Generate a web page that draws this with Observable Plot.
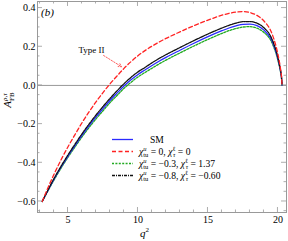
<!DOCTYPE html>
<html><head><meta charset="utf-8">
<script src="https://cdn.jsdelivr.net/npm/d3@7"></script>
<script src="https://cdn.jsdelivr.net/npm/@observablehq/plot@0.6"></script>
<style>html,body{margin:0;padding:0;background:#fff}svg{display:block}</style>
</head><body><div id="chart"></div>
<script>
// q^2 grid (GeV^2)
const q2 = [3.157,3.5,4,4.5,5,5.5,6,6.5,7,7.5,8,8.5,9,9.5,10,10.5,11,11.5,12,13,14,15,16,16.5,17,17.5,18,18.5,19,19.5,19.7,19.9,20,20.1,20.2,20.25,20.29];
// SM (blue solid)
const sm = [-0.600,-0.552,-0.485,-0.423,-0.365,-0.311,-0.258,-0.209,-0.163,-0.120,-0.078,-0.040,-0.003,0.029,0.057,0.080,0.103,0.125,0.145,0.182,0.218,0.252,0.283,0.297,0.308,0.316,0.317,0.309,0.286,0.241,0.207,0.164,0.136,0.105,0.067,0.043,0.000];
// chi_tu^u = 0, chi_tau^l = 0 (red dashed, Type II)
const typeII = [-0.600,-0.540,-0.459,-0.385,-0.317,-0.254,-0.193,-0.137,-0.085,-0.037,0.008,0.049,0.088,0.123,0.154,0.180,0.203,0.224,0.243,0.277,0.309,0.338,0.363,0.373,0.379,0.382,0.377,0.362,0.333,0.280,0.242,0.192,0.160,0.123,0.078,0.050,0.000];
// chi_tu^u = -0.3, chi_tau^l = 1.37 (green dashed)
const chiA = [-0.600,-0.554,-0.489,-0.428,-0.371,-0.318,-0.266,-0.218,-0.173,-0.131,-0.089,-0.052,-0.015,0.016,0.044,0.067,0.089,0.111,0.131,0.168,0.204,0.238,0.269,0.283,0.294,0.302,0.304,0.296,0.274,0.231,0.198,0.156,0.129,0.099,0.063,0.040,0.000];
// chi_tu^u = -0.8, chi_tau^l = -0.60 (black dash-dot)
const chiB = [-0.600,-0.550,-0.481,-0.418,-0.359,-0.304,-0.250,-0.200,-0.153,-0.109,-0.067,-0.028,0.009,0.042,0.070,0.093,0.117,0.139,0.159,0.196,0.232,0.266,0.297,0.311,0.322,0.330,0.330,0.322,0.298,0.251,0.216,0.172,0.143,0.111,0.071,0.046,0.000];

const xTicks = [5,10,15,20];
const yTicks = [-0.6,-0.4,-0.2,0,0.2,0.4];
const xMinor = d3.range(3,21);
const yMinor = d3.range(-13,9).map(k=>k*0.05);
const annot = [{x1:7.54,y1:0.155,x2:8.82,y2:0.097,tx:6.68,ty:0.185,label:"Type II"}];
const legendVals = [null,["0","0"],["−0.3","1.37"],["−0.8","−0.60"]];

const rows = q2.map((q,i)=>({q, sm:sm[i], t2:typeII[i], a:chiA[i], b:chiB[i]}));

const plot = Plot.plot({
  width:288, height:241,
  marginLeft:37, marginRight:2, marginTop:1, marginBottom:29,
  x:{domain:[2.82,20.61]},
  y:{domain:[-0.657,0.434]},
  style:{fontFamily:"Liberation Serif", fontSize:"10px", background:"#fff", color:"#000"},
  marks:[
    Plot.ruleY([0],{stroke:"#999",strokeWidth:1}),
    Plot.line(rows,{x:"q",y:"a",stroke:"#22aa22",strokeWidth:1.3,strokeDasharray:"2,1.4",curve:"monotone-x"}),
    Plot.line(rows,{x:"q",y:"sm",stroke:"#2a2aff",strokeWidth:1.3,curve:"monotone-x"}),
    Plot.line(rows,{x:"q",y:"b",stroke:"#111",strokeWidth:1.3,strokeDasharray:"3,1,1,1",curve:"monotone-x"}),
    Plot.line(rows,{x:"q",y:"t2",stroke:"#ff2222",strokeWidth:1.3,strokeDasharray:"4,2.5",curve:"monotone-x"}),
    Plot.arrow(annot,{x1:"x1",y1:"y1",x2:"x2",y2:"y2",stroke:"#ff6060",strokeWidth:1,strokeDasharray:"1.5,1.5",headLength:5,bend:false}),
    Plot.text(annot,{x:"tx",y:"ty",text:"label",fontSize:9,fill:"#000"}),
    Plot.frame({stroke:"#999"}),
    Plot.axisX({ticks:xTicks,tickSize:0,tickPadding:3,tickFormat:d=>String(d),label:null}),
    Plot.axisY({ticks:yTicks,tickSize:0,tickPadding:2,tickFormat:d3.format(".1f"),label:null})
  ]
});
document.getElementById("chart").appendChild(plot);

const sx = plot.scale("x"), sy = plot.scale("y");
const svg = d3.select(plot);
const L = sx.apply(2.82), R = sx.apply(20.61), T = sy.apply(0.434), B = sy.apply(-0.657);
const tg = svg.append("g").attr("stroke","#999").attr("stroke-width",0.8);
xMinor.forEach(v=>{
  const x = sx.apply(v), len = xTicks.includes(v)?5:2.5;
  tg.append("line").attr("x1",x).attr("x2",x).attr("y1",B).attr("y2",B-len);
  tg.append("line").attr("x1",x).attr("x2",x).attr("y1",T).attr("y2",T+len);
});
yMinor.forEach(v=>{
  const y = sy.apply(v), major = yTicks.some(t=>Math.abs(t-v)<1e-6), len = major?5:2.5;
  tg.append("line").attr("x1",L).attr("x2",L+len).attr("y1",y).attr("y2",y);
  tg.append("line").attr("x1",R).attr("x2",R-len).attr("y1",y).attr("y2",y);
});

const font = "Liberation Serif";
// (b)
svg.append("text").attr("x",41).attr("y",16).attr("text-anchor","start").attr("font-family",font).attr("font-size",11).attr("font-style","italic").text("(b)");

// y label A_FB^{rho,tau}
const yl = svg.append("text").attr("transform","translate(11,100) rotate(-90)").attr("text-anchor","middle").attr("font-family",font).attr("font-size",11);
yl.append("tspan").attr("font-style","italic").text("A");
yl.append("tspan").attr("font-size",7).attr("dy",2.5).text("FB");
yl.append("tspan").attr("font-size",7).attr("font-style","italic").attr("dx",-8.6).attr("dy",-7).text("ρ,τ");

// x label q^2
const xl = svg.append("text").attr("x",140).attr("y",237).attr("text-anchor","start").attr("font-family",font).attr("font-size",11);
xl.append("tspan").attr("font-style","italic").text("q");
xl.append("tspan").attr("font-size",7).attr("dy",-5).text("2");

// legend
const legend = [
  {stroke:"#2a2aff",dash:null},
  {stroke:"#ff2222",dash:"4,2.5"},
  {stroke:"#22aa22",dash:"2,1.4"},
  {stroke:"#111",dash:"3,1,1,1"}
];
const rowY = [139.5,151.5,163.5,175.5];
legend.forEach((s,i)=>{
  const y = rowY[i];
  svg.append("line").attr("x1",112).attr("x2",133).attr("y1",y).attr("y2",y)
    .attr("stroke",s.stroke).attr("stroke-width",1.3).attr("stroke-dasharray",s.dash);
  const t = svg.append("text").attr("y",y+3).attr("text-anchor","start").attr("font-family",font).attr("font-size",9.6);
  if(i===0){ t.attr("x",150).text("SM"); return; }
  t.attr("x",139);
  const v = legendVals[i];
  t.append("tspan").attr("font-style","italic").text("χ");
  t.append("tspan").attr("font-size",6.5).attr("font-style","italic").attr("dy",-3.8).text("u");
  t.append("tspan").attr("font-size",6.5).attr("dx",-3.2).attr("dy",6.4).text("tu");
  t.append("tspan").attr("dy",-2.6).text(" = "+v[0]+", ");
  t.append("tspan").attr("font-style","italic").text("χ");
  t.append("tspan").attr("font-size",6.5).attr("dy",-3.8).text("ℓ");
  t.append("tspan").attr("font-size",6.5).attr("font-style","italic").attr("dx",-2.4).attr("dy",6.4).text("τ");
  t.append("tspan").attr("dy",-2.6).text(" = "+v[1]);
});
</script>
</body></html>
